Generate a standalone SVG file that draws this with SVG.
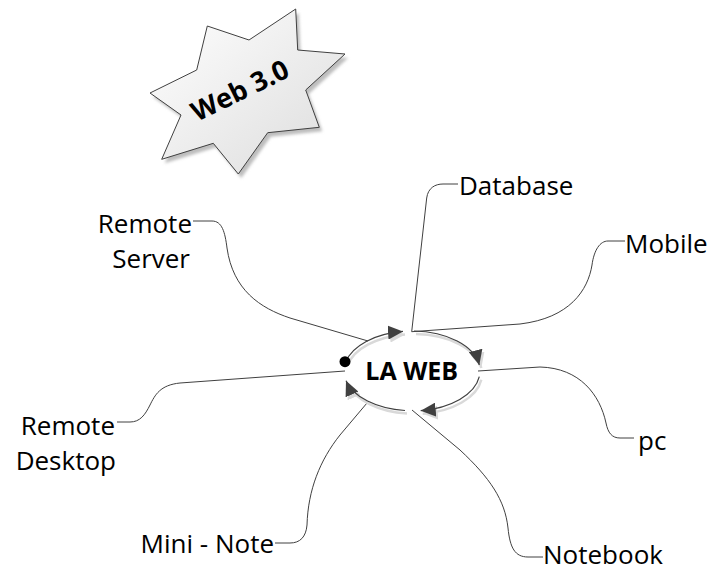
<svg xmlns="http://www.w3.org/2000/svg" width="710" height="573" viewBox="0 0 710 573">
  <style>
    .lbl { font-family: "Open Sans", "Noto Sans", sans-serif; font-size: 26px; fill: #000; }
    .bold { font-family: "Open Sans", "Noto Sans", sans-serif; font-weight: bold; fill: #000; }
    .conn { fill: none; stroke: #404040; stroke-width: 1; }
    .ring { fill: none; stroke: #404040; stroke-width: 1.2; marker-end: url(#head); }
    .ringShadow { fill: none; stroke: #d9d9d9; stroke-width: 2.5; marker-end: url(#headShadow); }
  </style>
  <defs>
    <linearGradient id="starFill" x1="0" y1="0" x2="1" y2="1">
      <stop offset="0" stop-color="#ffffff"/>
      <stop offset="1" stop-color="#dcdcdc"/>
    </linearGradient>
    <filter id="soft" x="-10%" y="-10%" width="120%" height="120%">
      <feGaussianBlur stdDeviation="1.5"/>
    </filter>
    <marker id="head" markerUnits="userSpaceOnUse" markerWidth="16" markerHeight="14" refX="15" refY="7" orient="auto">
      <path d="M0,0 L15,7 L0,14 z" fill="#404040"/>
    </marker>
    <marker id="headShadow" markerUnits="userSpaceOnUse" markerWidth="16" markerHeight="14" refX="15" refY="7" orient="auto">
      <path d="M0,0 L15,7 L0,14 z" fill="#d9d9d9"/>
    </marker>
  </defs>

  <rect width="710" height="573" fill="#ffffff"/>

  <!-- Web 3.0 star -->
  <g id="web30">
    <polygon transform="translate(3,4)" filter="url(#soft)" fill="#bdbdbd"
      points="295.7,9 297.7,50 345,54 305.7,90 319.3,127.3 267.7,132.7 238.3,174 213.3,143.3 161.7,159.3 181,115 150,93 196.7,70 207.3,26 249,40"/>
    <polygon fill="url(#starFill)" stroke="#404040" stroke-width="1"
      points="295.7,9 297.7,50 345,54 305.7,90 319.3,127.3 267.7,132.7 238.3,174 213.3,143.3 161.7,159.3 181,115 150,93 196.7,70 207.3,26 249,40"/>
    <text class="bold" font-size="27" text-anchor="middle" transform="translate(244,99) rotate(-26)">Web 3.0</text>
  </g>

  <!-- connectors -->
  <g id="connectors">
    <path class="conn" d="M193,221 L212,221 C222,221 225,232 227,248 C233,290 260,308 290,318 L368,341"/>
    <path class="conn" d="M411.7,331.7 L426.7,198 C428,188 435,184 443,184 L458,184"/>
    <path class="conn" d="M411.7,331.7 L520,324 C570,318 588,290 592,265 C594,250 600,241 608,241 L625,241"/>
    <path class="conn" d="M478,371 L540,367 C580,368 600,395 606,423 C608,433 612,438 620,438 L634,438"/>
    <path class="conn" d="M412,410 L460,450 C490,478 505,500 508,528 C510,548 515,557 528,557 L543,557"/>
    <path class="conn" d="M345,371 L180,383 C160,385 155,395 150,405 C145,415 140,422 130,422 L117,422"/>
    <path class="conn" d="M367,403 L340,435 C320,460 308,490 307,525 C306,537 300,543 290,543 L275,543"/>
  </g>

  <!-- central cycle -->
  <g id="laweb">
    <g transform="translate(2,3)">
      <path class="ringShadow" d="M345.7,362 A68,40 0 0 1 403,331.4"/>
      <path class="ringShadow" d="M414,331 A68,40 0 0 1 479.3,365"/>
      <path class="ringShadow" d="M479.3,376.7 A68,40 0 0 1 420.7,410.7"/>
      <path class="ringShadow" d="M405,410.5 A68,40 0 0 1 346,380.7"/>
    </g>
    <path class="ring" d="M345.7,362 A68,40 0 0 1 403,331.4"/>
    <path class="ring" d="M414,331 A68,40 0 0 1 479.3,365"/>
    <path class="ring" d="M479.3,376.7 A68,40 0 0 1 420.7,410.7"/>
    <path class="ring" d="M405,410.5 A68,40 0 0 1 346,380.7"/>
    <circle cx="345" cy="361.7" r="5.5" fill="#000"/>
    <text class="bold" font-size="25" x="411.7" y="380" text-anchor="middle">LA WEB</text>
  </g>

  <g id="remote-server">
    <text class="lbl" x="192" y="233" text-anchor="end">Remote</text>
    <text class="lbl" x="190" y="268" text-anchor="end">Server</text>
  </g>
  <g id="database">
    <text class="lbl" x="459" y="195">Database</text>
  </g>
  <g id="mobile">
    <text class="lbl" x="625" y="253">Mobile</text>
  </g>
  <g id="pc">
    <text class="lbl" x="638" y="450">pc</text>
  </g>
  <g id="notebook">
    <text class="lbl" x="543" y="564">Notebook</text>
  </g>
  <g id="remote-desktop">
    <text class="lbl" x="115" y="435" text-anchor="end">Remote</text>
    <text class="lbl" x="116" y="470" text-anchor="end">Desktop</text>
  </g>
  <g id="mini-note">
    <text class="lbl" x="274" y="553" text-anchor="end">Mini - Note</text>
  </g>
</svg>
